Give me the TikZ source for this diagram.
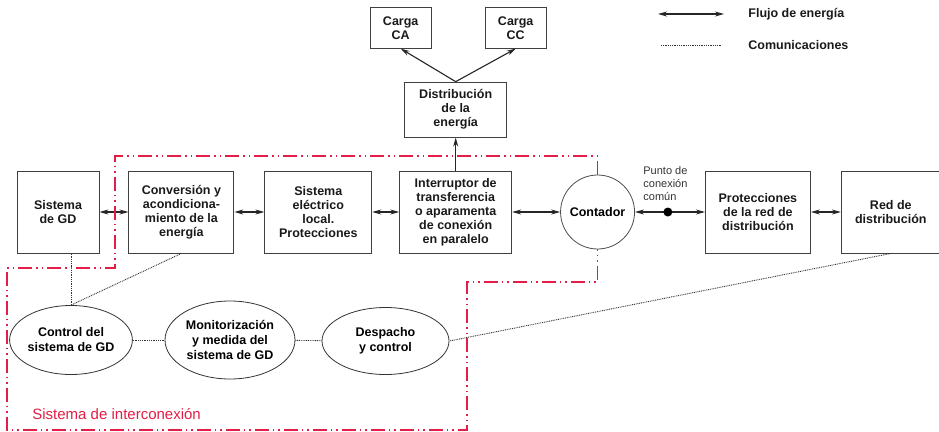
\documentclass[tikz,border=0pt]{standalone}
\usepackage{fontspec}
\setmainfont{Liberation Sans}
\usetikzlibrary{shapes.geometric,arrows.meta,positioning,calc}

\definecolor{interred}{RGB}{226,30,70}

\begin{document}
\begin{tikzpicture}[
    x=1pt, y=-1pt,
    thick,
    block/.style={rectangle,draw=black!75,line width=0.9pt,font=\bfseries\fontsize{12.5}{14}\selectfont,text=black!90,align=center,inner sep=2pt,minimum height=82pt},
    load/.style={block,minimum width=61pt,minimum height=41pt},
    meter/.style={circle,draw=black!70,line width=0.8pt,minimum size=74pt,inner sep=0pt,font=\bfseries\fontsize{12.5}{14}\selectfont},
    task/.style={ellipse,draw=black!80,line width=0.8pt,inner sep=0pt,align=center,font=\bfseries\fontsize{12.5}{15}\selectfont},
    note/.style={font=\fontsize{11}{13}\selectfont,text=black!80,align=left,inner sep=0pt},
    legend/.style={font=\bfseries\fontsize{12.5}{14}\selectfont,text=black!90,inner sep=0pt},
    pccdot/.style={circle,fill=black,inner sep=0pt,minimum size=9pt},
    flow/.style={{Stealth[length=9pt,width=5pt]}-{Stealth[length=9pt,width=5pt]},line width=1.1pt,black!85},
    feed/.style={-{Stealth[length=9pt,width=5pt]},line width=1.1pt,black!85},
    comm/.style={line width=0.9pt,dash pattern=on 0.9pt off 0.9pt,black!80},
    border/.style={interred,line width=1.6pt,dash pattern=on 14pt off 4pt on 1.5pt off 4pt on 1.5pt off 4pt}
]
\useasboundingbox (0,0) rectangle (939,431);

% Cadena principal
\node[block, minimum width=82pt] (gd) at (58,212) {Sistema\\de GD};
\node[block, minimum width=105pt, right=29pt of gd] (conv) {Conversión y\\acondiciona-\\miento de la\\energía};
\node[block, minimum width=107pt, right=30pt of conv] (sel) {Sistema\\eléctrico\\local.\\Protecciones};
\node[block, minimum width=112pt, right=27pt of sel] (sw) {Interruptor de\\transferencia\\o aparamenta\\de conexión\\en paralelo};
\node[meter, right=48pt of sw] (meter) {Contador};
\node[block, minimum width=105pt, right=70pt of meter] (prot) {Protecciones\\de la red de\\distribución};
\node[block, minimum width=99pt, right=30pt of prot] (grid) {Red de\\distribución};

% Cargas
\node[block, minimum width=102pt, minimum height=55pt, above=33pt of sw] (dist) {Distribución\\de la\\energía};
\node[load, above=33pt of dist, xshift=-55pt] (ca) {Carga\\CA};
\node[load, above=33pt of dist, xshift=60pt] (cc) {Carga\\CC};

% Control y comunicaciones
\node[task, minimum width=116pt, minimum height=69pt] (ctrl) at (71,340) {Control del\\sistema de GD};
\node[task, minimum width=130pt, minimum height=78pt] (mon) at (230,340) {Monitorización\\y medida del\\sistema de GD};
\node[task, minimum width=127pt, minimum height=67pt] (disp) at (385.5,341) {Despacho\\y control};

% Punto de conexión común
\node[note, anchor=west] (pcctxt) at (643,184) {Punto de\\conexión\\común};

% Flujo de energía
\draw[flow] (gd) -- (conv);
\draw[flow] (conv) -- (sel);
\draw[flow] (sel) -- (sw);
\draw[flow] (sw) -- (meter);
\draw[flow] (meter) -- node[pccdot, pos=0.47] (pcc) {} (prot);
\draw[flow] (prot) -- (grid);
\draw[feed] (sw) -- (dist);
\draw[feed] (dist.north) -- (ca.south);
\draw[feed] (dist.north) -- (cc.south);

% Comunicaciones
\draw[comm] (ctrl.north) -- (ctrl.north |- gd.south);
\draw[comm] (conv.south) -- (ctrl.north);
\draw[comm] (ctrl) -- (mon);
\draw[comm] (mon) -- (disp);
\draw[comm] (grid.south) -- (disp.east);

% Sistema de interconexión
\draw[border] (meter.north) |- (115,156) |- (7,268) -- (7,430) -| (467,282) -| (meter.south);
\node[anchor=west, text=interred, font=\fontsize{15}{18}\selectfont, inner sep=0pt] (systxt) at (32,414) {Sistema de interconexión};

% Leyenda
\coordinate (flowA) at (658,14);
\coordinate (flowB) at (724,14);
\coordinate (commA) at (661,45);
\coordinate (commB) at (722,45);
\draw[flow] (flowA) -- (flowB);
\draw[comm] (commA) -- (commB);
\node[legend, anchor=west] (flowtxt) at (748,14) {Flujo de energía};
\node[legend, anchor=west] (commtxt) at (748,45) {Comunicaciones};

\end{tikzpicture}
\end{document}
